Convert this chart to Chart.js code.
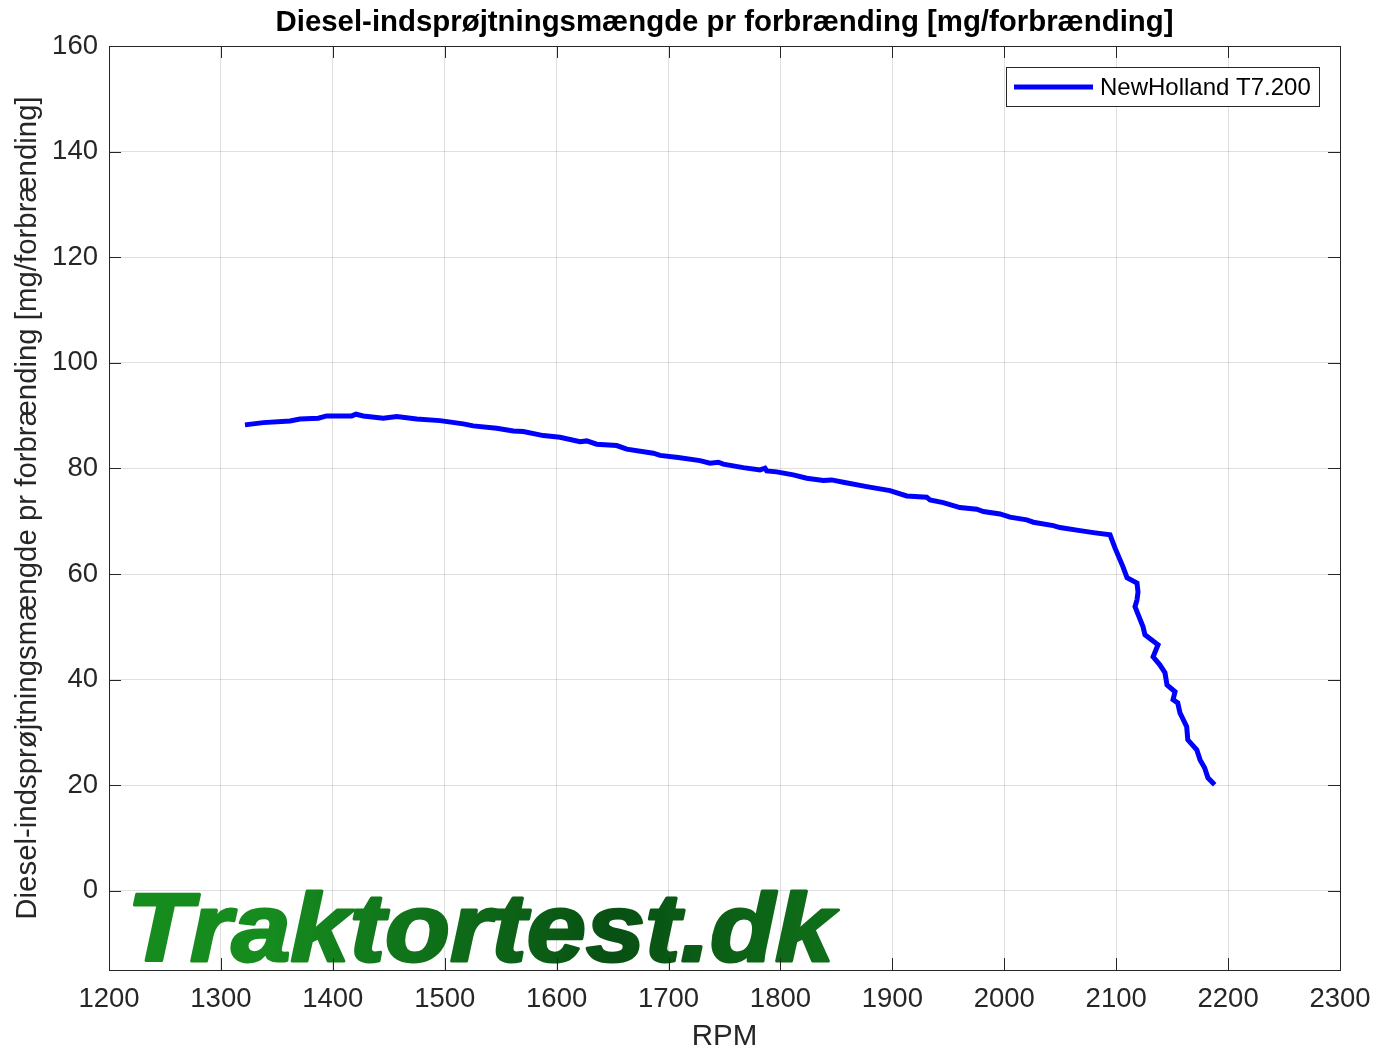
<!DOCTYPE html>
<html>
<head>
<meta charset="utf-8">
<script src="https://cdn.jsdelivr.net/npm/chart.js@4"></script>
<style>
  html, body { margin: 0; padding: 0; background: #fff; }
  canvas { display: block; }
</style>
</head>
<body>
<canvas id="kurve" width="1375" height="1056"></canvas>
<script>
// RPM og indsprøjtningsmængde aflæst fra kurven
const rpm = [1321.5, 1337.9, 1361.7, 1370.7, 1387.0, 1394.5, 1416.9, 1420.7, 1427.2, 1445.1,
    1457.1, 1475.0, 1495.8, 1516.6, 1525.5, 1546.4, 1561.3, 1570.2, 1588.1, 1603.0,
    1620.9, 1626.9, 1635.8, 1653.7, 1662.6, 1686.4, 1692.4, 1708.7, 1728.1, 1737.0,
    1744.5, 1748.9, 1766.8, 1781.7, 1786.2, 1787.7, 1796.6, 1811.5, 1823.5, 1838.3,
    1845.8, 1856.2, 1877.1, 1897.9, 1912.8, 1930.7, 1933.6, 1945.5, 1960.4, 1975.4,
    1981.3, 1996.2, 2005.1, 2020.1, 2026.0, 2043.8, 2049.8, 2067.7, 2079.6, 2094.5,
    2099.0, 2106.0, 2109.7, 2118.6, 2119.5, 2118.6, 2116.8, 2124.0, 2125.7, 2137.4,
    2133.0, 2139.0, 2143.6, 2145.4, 2152.6, 2150.8, 2155.0, 2157.0, 2163.0, 2164.0,
    2172.0, 2175.0, 2179.0, 2182.0, 2188.0];
const mg = [88.24, 88.67, 88.99, 89.37, 89.51, 89.94, 89.94, 90.26, 89.94, 89.51,
    89.81, 89.37, 89.05, 88.43, 88.05, 87.61, 87.10, 86.97, 86.21, 85.91,
    85.07, 85.21, 84.58, 84.32, 83.64, 82.88, 82.46, 82.05, 81.48, 80.98,
    81.17, 80.80, 80.15, 79.72, 80.04, 79.53, 79.34, 78.77, 78.14, 77.69,
    77.82, 77.39, 76.55, 75.80, 74.79, 74.55, 74.04, 73.53, 72.58, 72.27,
    71.82, 71.38, 70.76, 70.25, 69.81, 69.17, 68.79, 68.22, 67.84, 67.41,
    64.9, 61.4, 59.3, 58.3, 56.6, 55.1, 53.8, 50.0, 48.5, 46.6,
    44.3, 42.8, 41.3, 39.0, 37.7, 36.2, 35.6, 33.7, 31.1, 28.6,
    26.7, 24.8, 23.3, 21.4, 20.1];

const xTicks = [1200, 1300, 1400, 1500, 1600, 1700, 1800, 1900, 2000, 2100, 2200, 2300];
const yTicks = [-15, 0, 20, 40, 60, 80, 100, 120, 140, 160];

const titel = 'Diesel-indsprøjtningsmængde pr forbrænding [mg/forbrænding]';
const font = "'Liberation Sans', Arial, sans-serif";

// titel, ramme, indadvendte tick-streger, legende og vandmærke
const ramme = {
    id: 'ramme',
    beforeDatasetsDraw(chart) {
        const ctx = chart.ctx;
        // vandmærke
        ctx.save();
        const txt = 'Traktortest.dk';
        ctx.font = "italic bold 97px " + font;
        const w = ctx.measureText(txt).width;
        const x0 = 127, x1 = 834;
        const g = ctx.createLinearGradient(x0, 0, x1, 0);
        g.addColorStop(0, '#168c1f');
        g.addColorStop(0.45, '#085013');
        g.addColorStop(1, '#168e1f');
        ctx.fillStyle = g;
        ctx.strokeStyle = g;
        ctx.lineWidth = 3;
        ctx.lineJoin = 'round';
        ctx.textBaseline = 'alphabetic';
        ctx.translate(x0, 961);
        ctx.scale((x1 - x0) / w, 1);
        ctx.fillText(txt, 0, 0);
        ctx.strokeText(txt, 0, 0);
        ctx.restore();
    },
    afterDatasetsDraw(chart) {
        const ctx = chart.ctx;
        const a = chart.chartArea;
        const sx = chart.scales.x, sy = chart.scales.y;
        ctx.save();
        // titel centreret over plotområdet
        ctx.fillStyle = '#000';
        ctx.font = "bold 29.4px " + font;
        ctx.textAlign = 'center';
        ctx.textBaseline = 'middle';
        ctx.fillText(titel, (a.left + a.right) / 2, 23);
        ctx.textAlign = 'left';

        ctx.strokeStyle = '#262626';
        ctx.lineWidth = 1;
        ctx.beginPath();
        xTicks.forEach(v => {
            const p = Math.round(sx.getPixelForValue(v)) + 0.5;
            ctx.moveTo(p, a.bottom); ctx.lineTo(p, a.bottom - 12);
            ctx.moveTo(p, a.top); ctx.lineTo(p, a.top + 12);
        });
        yTicks.slice(1).forEach(v => {
            const p = Math.round(sy.getPixelForValue(v)) + 0.5;
            ctx.moveTo(a.left, p); ctx.lineTo(a.left + 12, p);
            ctx.moveTo(a.right, p); ctx.lineTo(a.right - 12, p);
        });
        ctx.stroke();
        ctx.strokeRect(Math.round(a.left) + 0.5, Math.round(a.top) + 0.5,
            Math.round(a.right - a.left), Math.round(a.bottom - a.top));

        // legende
        const ds = chart.data.datasets[0];
        const bx = 1006.5, by = 67.5, bw = 313, bh = 39;
        ctx.fillStyle = '#fff';
        ctx.fillRect(bx, by, bw, bh);
        ctx.strokeStyle = '#262626';
        ctx.strokeRect(bx, by, bw, bh);
        ctx.strokeStyle = ds.borderColor;
        ctx.lineWidth = 5;
        ctx.beginPath();
        ctx.moveTo(1014, 87); ctx.lineTo(1093, 87);
        ctx.stroke();
        ctx.fillStyle = '#000';
        ctx.font = "24px " + font;
        ctx.textBaseline = 'middle';
        ctx.fillText(ds.label, 1100, 88);
        ctx.restore();
    }
};

new Chart(document.getElementById('kurve'), {
    type: 'line',
    data: {
        datasets: [{
            label: 'NewHolland T7.200',
            data: rpm.map((r, i) => ({ x: r, y: mg[i] })),
            borderColor: '#0000ff',
            borderWidth: 5,
            pointRadius: 0,
            tension: 0,
            fill: false
        }]
    },
    options: {
        responsive: false,
        animation: false,
        layout: { padding: { left: 0, right: 35, top: 46, bottom: 0 } },
        plugins: {
            legend: { display: false },
            tooltip: { enabled: false },
            title: { display: false }
        },
        scales: {
            x: {
                type: 'linear',
                min: 1200, max: 2300,
                afterBuildTicks: s => { s.ticks = xTicks.map(v => ({ value: v })); },
                afterFit: s => { s.height = 86; s.paddingLeft = 0; s.paddingRight = 0; },
                grid: { color: 'rgba(0,0,0,0.12)', drawTicks: false },
                border: { display: false },
                ticks: {
                    color: '#262626', font: { family: font, size: 27.5 }, padding: 13, maxRotation: 0,
                    callback: v => String(v)
                },
                title: { display: true, text: 'RPM', color: '#262626', font: { family: font, size: 29.5 }, padding: { top: 0, bottom: 1 } }
            },
            y: {
                min: -15, max: 160,
                afterBuildTicks: s => { s.ticks = yTicks.map(v => ({ value: v })); },
                afterFit: s => { s.width = 109; s.paddingTop = 0; s.paddingBottom = 0; },
                grid: { color: 'rgba(0,0,0,0.12)', drawTicks: false },
                border: { display: false },
                ticks: {
                    color: '#262626', font: { family: font, size: 27.5 }, padding: 11,
                    callback: v => v === -15 ? '' : String(v)
                },
                title: {
                    display: true,
                    text: titel,
                    color: '#262626', font: { family: font, size: 29.4 }, padding: { top: 10.5, bottom: 0 }
                }
            }
        }
    },
    plugins: [ramme]
});
</script>
</body>
</html>
